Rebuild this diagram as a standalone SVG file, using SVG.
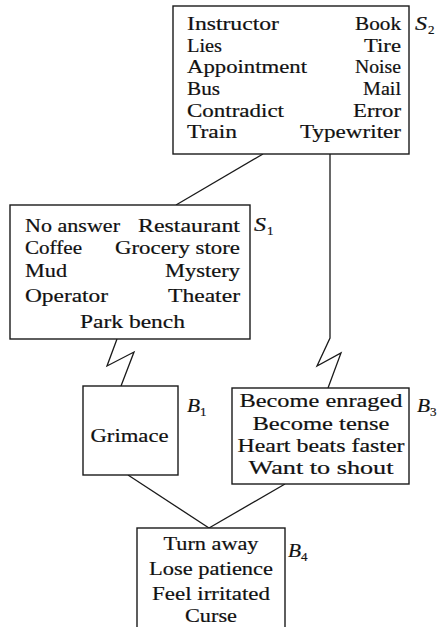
<svg xmlns="http://www.w3.org/2000/svg" width="441" height="627" viewBox="0 0 441 627">
  <style>
    .box { fill: #ffffff; stroke: #1a1a1a; stroke-width: 1.4; }
    .wire { fill: none; stroke: #1a1a1a; stroke-width: 1.3; stroke-linejoin: miter; }
    .t { font-family: 'Liberation Serif', 'DejaVu Serif', serif; font-size: 18.5px; fill: #111111; stroke: #111111; stroke-width: 0.2; }
    .lbl { font-family: 'Liberation Serif', 'DejaVu Serif', serif; font-style: italic; font-size: 19px; fill: #111111; stroke: #111111; stroke-width: 0.2; }
    .sub { font-family: 'Liberation Serif', 'DejaVu Serif', serif; font-size: 13px; fill: #111111; stroke: #111111; stroke-width: 0.2; }
  </style>
  <rect width="441" height="627" fill="#ffffff"/>

  <!-- connectors -->
  <g id="connectors">
    <line class="wire" x1="263" y1="154" x2="176" y2="205"/>
    <polyline class="wire" points="330,154 330,338 317,366 341,353 328,388"/>
    <polyline class="wire" points="117,339 107,366 134,352 121,386"/>
    <line class="wire" x1="128" y1="475" x2="209" y2="528"/>
    <line class="wire" x1="285" y1="484" x2="209" y2="528"/>
  </g>

  <!-- S2: stimulus set -->
  <g id="S2">
    <rect class="box" x="173" y="6" width="236" height="148"/>
    <text class="t" x="187" y="30" textLength="92" lengthAdjust="spacingAndGlyphs">Instructor</text>
    <text class="t" x="355" y="30" textLength="46" lengthAdjust="spacingAndGlyphs">Book</text>
    <text class="t" x="187" y="51.5" textLength="35" lengthAdjust="spacingAndGlyphs">Lies</text>
    <text class="t" x="364" y="51.5" textLength="37" lengthAdjust="spacingAndGlyphs">Tire</text>
    <text class="t" x="187" y="73" textLength="120" lengthAdjust="spacingAndGlyphs">Appointment</text>
    <text class="t" x="355" y="73" textLength="46" lengthAdjust="spacingAndGlyphs">Noise</text>
    <text class="t" x="187" y="95" textLength="33" lengthAdjust="spacingAndGlyphs">Bus</text>
    <text class="t" x="363" y="95" textLength="38" lengthAdjust="spacingAndGlyphs">Mail</text>
    <text class="t" x="187" y="116.5" textLength="97" lengthAdjust="spacingAndGlyphs">Contradict</text>
    <text class="t" x="353" y="116.5" textLength="48" lengthAdjust="spacingAndGlyphs">Error</text>
    <text class="t" x="187" y="138" textLength="50" lengthAdjust="spacingAndGlyphs">Train</text>
    <text class="t" x="300" y="138" textLength="101" lengthAdjust="spacingAndGlyphs">Typewriter</text>
    <text class="lbl" x="415" y="30" textLength="12" lengthAdjust="spacingAndGlyphs">S</text>
    <text class="sub" x="428" y="34">2</text>
  </g>

  <!-- S1: stimulus set -->
  <g id="S1">
    <rect class="box" x="10" y="205" width="240" height="134"/>
    <text class="t" x="25" y="231.5" textLength="95" lengthAdjust="spacingAndGlyphs">No answer</text>
    <text class="t" x="138" y="231.5" textLength="102" lengthAdjust="spacingAndGlyphs">Restaurant</text>
    <text class="t" x="25" y="253.5" textLength="57" lengthAdjust="spacingAndGlyphs">Coffee</text>
    <text class="t" x="115" y="253.5" textLength="125" lengthAdjust="spacingAndGlyphs">Grocery store</text>
    <text class="t" x="25" y="277" textLength="42" lengthAdjust="spacingAndGlyphs">Mud</text>
    <text class="t" x="165" y="277" textLength="75" lengthAdjust="spacingAndGlyphs">Mystery</text>
    <text class="t" x="25" y="301.5" textLength="83" lengthAdjust="spacingAndGlyphs">Operator</text>
    <text class="t" x="168" y="301.5" textLength="72" lengthAdjust="spacingAndGlyphs">Theater</text>
    <text class="t" x="80" y="328" textLength="105" lengthAdjust="spacingAndGlyphs">Park bench</text>
    <text class="lbl" x="254" y="231" textLength="12" lengthAdjust="spacingAndGlyphs">S</text>
    <text class="sub" x="267" y="235">1</text>
  </g>

  <!-- B1: response -->
  <g id="B1">
    <rect class="box" x="83" y="386" width="95" height="89"/>
    <text class="t" x="90.5" y="442" textLength="78" lengthAdjust="spacingAndGlyphs">Grimace</text>
    <text class="lbl" x="187" y="412" textLength="13" lengthAdjust="spacingAndGlyphs">B</text>
    <text class="sub" x="200" y="416">1</text>
  </g>

  <!-- B3: response -->
  <g id="B3">
    <rect class="box" x="232" y="388" width="177" height="96"/>
    <text class="t" x="239.5" y="406.5" textLength="163" lengthAdjust="spacingAndGlyphs">Become enraged</text>
    <text class="t" x="252.5" y="429.5" textLength="137" lengthAdjust="spacingAndGlyphs">Become tense</text>
    <text class="t" x="237.5" y="452" textLength="167" lengthAdjust="spacingAndGlyphs">Heart beats faster</text>
    <text class="t" x="248.5" y="473.5" textLength="145" lengthAdjust="spacingAndGlyphs">Want to shout</text>
    <text class="lbl" x="417" y="412" textLength="13" lengthAdjust="spacingAndGlyphs">B</text>
    <text class="sub" x="430" y="416">3</text>
  </g>

  <!-- B4: response -->
  <g id="B4">
    <rect class="box" x="137" y="528" width="148" height="110"/>
    <text class="t" x="163.5" y="550" textLength="95" lengthAdjust="spacingAndGlyphs">Turn away</text>
    <text class="t" x="149" y="575" textLength="124" lengthAdjust="spacingAndGlyphs">Lose patience</text>
    <text class="t" x="152" y="600" textLength="118" lengthAdjust="spacingAndGlyphs">Feel irritated</text>
    <text class="t" x="185" y="622" textLength="52" lengthAdjust="spacingAndGlyphs">Curse</text>
    <text class="lbl" x="288" y="557" textLength="13" lengthAdjust="spacingAndGlyphs">B</text>
    <text class="sub" x="301" y="561">4</text>
  </g>
</svg>
